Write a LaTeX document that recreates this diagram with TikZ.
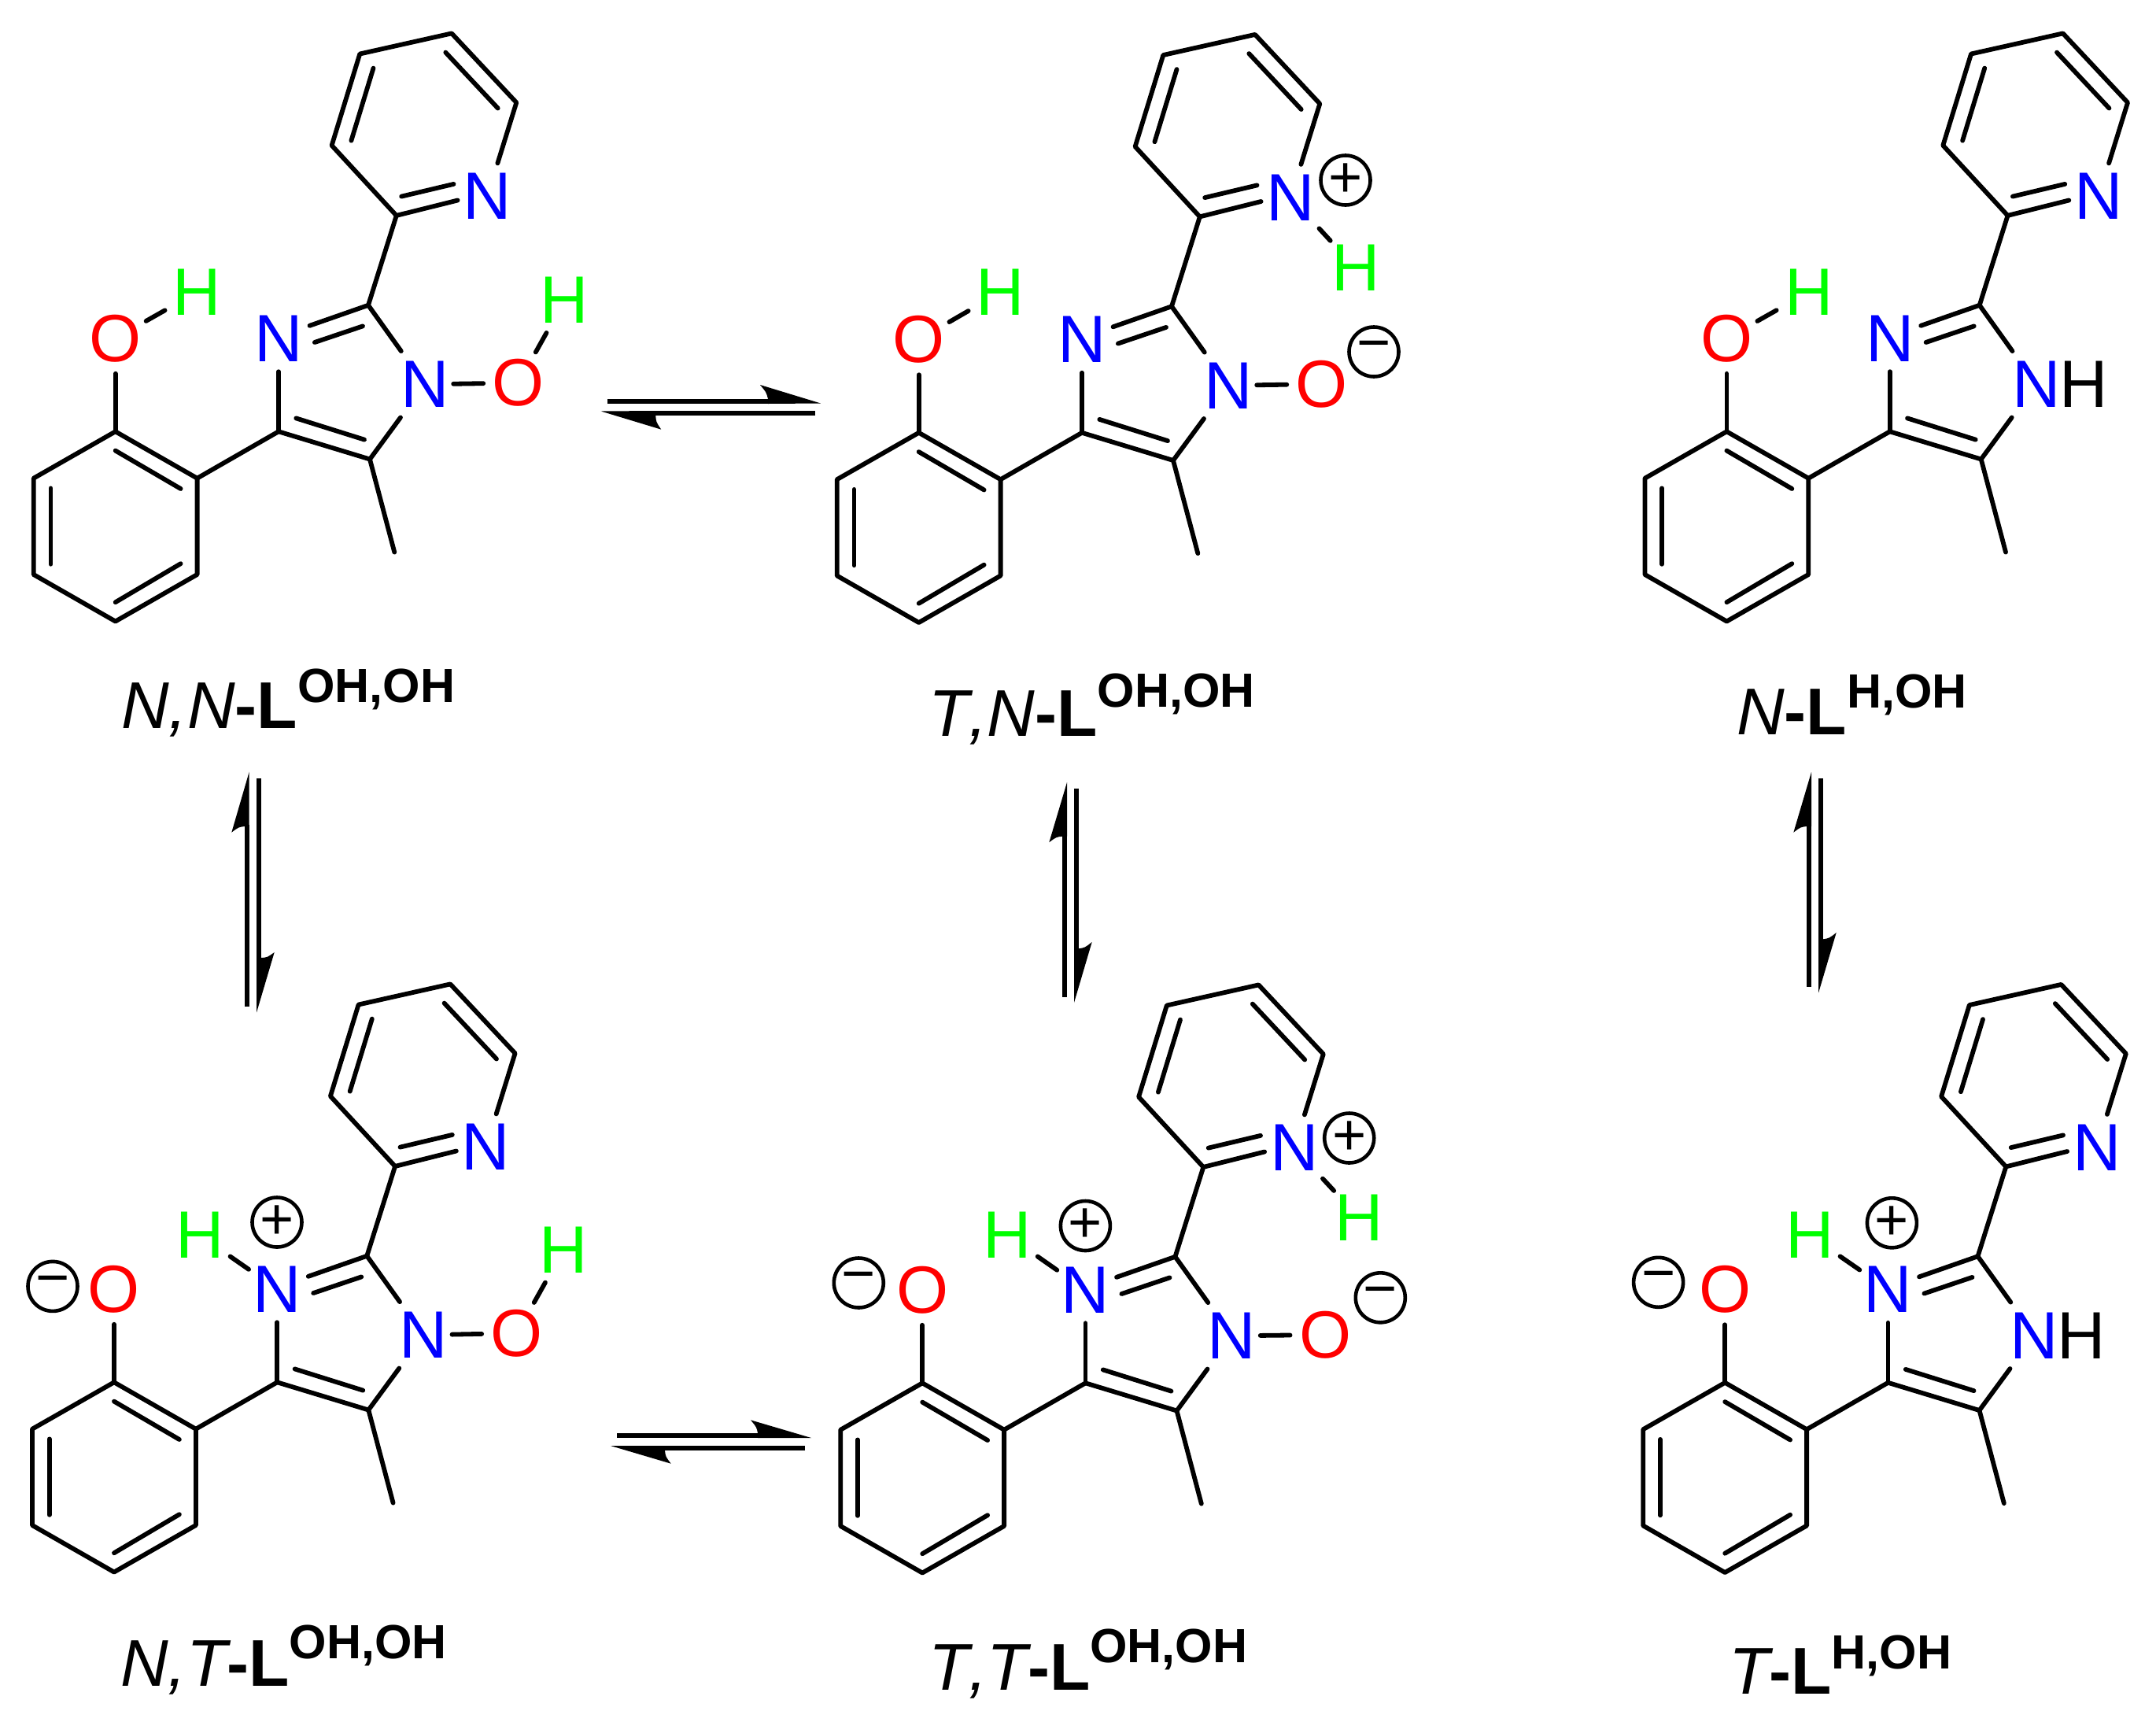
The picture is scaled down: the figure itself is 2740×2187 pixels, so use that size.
\documentclass[tikz,border=0pt]{standalone}
\usepackage{fontspec}
\setmainfont{Liberation Sans}[Kerning=Off]
\usetikzlibrary{calc}
\definecolor{nblue}{RGB}{0,0,255}
\definecolor{ored}{RGB}{255,0,0}
\definecolor{hgreen}{RGB}{0,255,0}
\tikzset{
  bond/.style={line width=5.8pt,line cap=round,line join=round,black},
  shaft/.style={line width=6pt,black},
  atomfont/.style={font=\fontsize{85}{90}\selectfont,inner sep=0pt},
  atomN/.style={atomfont,rectangle,minimum width=72pt,minimum height=84pt,text=nblue},
  atomO/.style={atomfont,circle,minimum size=84pt,text=ored},
  atomH/.style={atomfont,circle,minimum size=94pt,text=hgreen},
  atomK/.style={atomfont,text=black},
  charge/.style={circle,draw=black,line width=4.6pt,minimum size=63pt,inner sep=0pt,font=\fontsize{74}{76}\selectfont},
  lab/.style={anchor=base west,inner sep=0pt,font=\fontsize{84}{90}\selectfont}
}
\newcommand\Skeleton[3]{%
  \begin{scope}[shift={(#2,#3)}]
    \coordinate (#1b1) at (146.7,548.3);
    \coordinate (#1b2) at (250.6,607.7);
    \coordinate (#1b3) at (250.6,730);
    \coordinate (#1b4) at (146.7,789.5);
    \coordinate (#1b5) at (42.7,730);
    \coordinate (#1b6) at (42.7,607.7);
    \coordinate (#1i1) at (146.7,572.6);
    \coordinate (#1i2) at (229.6,621);
    \coordinate (#1i3) at (64.4,620.4);
    \coordinate (#1i4) at (64.4,716.8);
    \coordinate (#1i5) at (146.7,765.2);
    \coordinate (#1i6) at (229.6,716.2);
    \coordinate (#1c4) at (354,548.3);
    \coordinate (#1c5) at (470,583.5);
    \coordinate (#1c2) at (468,387.8);
    \coordinate (#1me) at (501.3,701.6);
    \coordinate (#1j1) at (376.3,531.4);
    \coordinate (#1j2) at (463,558.6);
    \coordinate (#1j3) at (393.5,413.8);
    \coordinate (#1j4) at (399.9,435);
    \coordinate (#1j5) at (461,414.4);
    \coordinate (#1p2) at (503.8,273.9);
    \coordinate (#1p3) at (421.6,184.8);
    \coordinate (#1p4) at (457.3,68.5);
    \coordinate (#1p5) at (574,42.4);
    \coordinate (#1p6) at (656.3,130.3);
    \coordinate (#1k1) at (446.4,178.7);
    \coordinate (#1k2) at (474.5,86.6);
    \coordinate (#1k3) at (566.3,66.6);
    \coordinate (#1k4) at (632.7,137.5);
    \coordinate (#1k5) at (581.6,254.5);
    \coordinate (#1k6) at (510.2,249.6);
    \coordinate (#1k7) at (576.5,233.9);
    \node[atomO] (#1Op) at (146.7,430) {O};
    \node[atomN] (#1Na) at (354,430) {N};
    \node[atomN] (#1Nb) at (540,488.3) {N};
    \node[atomN] (#1Np) at (619.3,249.6) {N};
  \end{scope}
  \draw[bond] (#1b1)--(#1b2)--(#1b3)--(#1b4)--(#1b5)--(#1b6)--cycle;
  \draw[bond] (#1i1)--(#1i2);
  \draw[bond] (#1i3)--(#1i4);
  \draw[bond] (#1i5)--(#1i6);
  \draw[bond] (#1b1)--(#1Op);
  \draw[bond] (#1b2)--(#1c4);
  \draw[bond] (#1c4)--(#1c5);
  \draw[bond] (#1j1)--(#1j2);
  \draw[bond] (#1c4)--(#1Na);
  \draw[bond] (#1c5)--(#1Nb);
  \draw[bond] (#1c2)--(#1Nb);
  \draw[bond] (#1c2)--(#1j3);
  \draw[bond] (#1j4)--(#1j5);
  \draw[bond] (#1c5)--(#1me);
  \draw[bond] (#1c2)--(#1p2);
  \draw[bond] (#1p2)--(#1p3)--(#1p4)--(#1p5)--(#1p6)--(#1Np);
  \draw[bond] (#1k1)--(#1k2);
  \draw[bond] (#1k3)--(#1k4);
  \draw[bond] (#1p2)--(#1k5);
  \draw[bond] (#1k6)--(#1k7);
}
% name, tail, shaft end, tip, barb, notch, base
\newcommand\HalfArrow[7]{%
  \coordinate (#1tail) at (#2);
  \coordinate (#1end) at (#3);
  \coordinate (#1tip) at (#4);
  \coordinate (#1barb) at (#5);
  \coordinate (#1notch) at (#6);
  \coordinate (#1base) at (#7);
  \draw[shaft] (#1tail)--(#1end);
  \fill[black] (#1tip)--(#1barb) .. controls ($(#1barb)!.5!(#1notch)!3pt!(#1tip)$) .. (#1notch)--(#1base)--cycle;
}
% name, x, y, italic text, raise, superscript
\newcommand\MolLabel[6]{%
  \node[lab] (#1) at (#2,#3) {{\itshape #4}{\bfseries -L}\raisebox{#5pt}{\fontsize{61}{66}\selectfont\bfseries #6}};
}
\begin{document}
\begin{tikzpicture}[x=1pt,y=-1pt]
\useasboundingbox (0,0) rectangle (2740,2187);
\fill[white] (0,0) rectangle (2740,2187);

% N,N
\Skeleton{A}{0}{0}
\node[atomH] (AHp) at (250.6,371) {H};
\node[atomO] (AOs) at (659,486.5) {O};
\node[atomH] (AHs) at (717.5,381.7) {H};
\draw[bond] (AOp)--(AHp);
\draw[bond] (ANb)--(AOs);
\draw[bond] (AOs)--(AHs);
\MolLabel{Alab}{154}{925}{N,N}{33}{OH,OH}

% T,N
\Skeleton{B}{1021}{1.5}
\node[atomH] (BHp) at (1271.5,371.4) {H};
\node[atomO] (BOs) at (1680,488) {O};
\node[charge] (BQm) at (1746,447) {−};
\node[charge] (BQp) at (1710,229) {+};
\node[atomH] (BHn) at (1722.7,340.5) {H};
\draw[bond] (BOp)--(BHp);
\draw[bond] (BNb)--(BOs);
\draw[bond] (BNp)--(BHn);
\MolLabel{Blab}{1180}{935}{T,N}{36.5}{OH,OH}

% N
\Skeleton{C}{2047.7}{0}
\node[atomH] (CHp) at (2298.7,371) {H};
\node[atomK] (CHn) at (2648,488) {H};
\draw[bond] (COp)--(CHp);
\MolLabel{Clab}{2207}{933}{N}{34}{H,OH}

% N,T
\Skeleton{D}{-1.7}{1208}
\node[charge] (DQm) at (67,1634.4) {−};
\node[atomH] (DHa) at (253.8,1569.5) {H};
\node[charge] (DQp) at (352,1553) {+};
\node[atomO] (DOs) at (656.9,1694) {O};
\node[atomH] (DHs) at (716,1588.4) {H};
\draw[bond] (DNa)--(DHa);
\draw[bond] (DNb)--(DOs);
\draw[bond] (DOs)--(DHs);
\MolLabel{Dlab}{153}{2142.3}{N,T}{35}{OH,OH}

% T,T
\Skeleton{E}{1025.5}{1209}
\node[charge] (EQo) at (1091.3,1630) {−};
\node[atomH] (EHa) at (1280,1569.5) {H};
\node[charge] (EQa) at (1379.4,1557.5) {+};
\node[atomO] (EOs) at (1684.3,1696) {O};
\node[charge] (EQm) at (1754.3,1648.8) {−};
\node[charge] (EQp) at (1714.7,1446) {+};
\node[atomH] (EHn) at (1727.3,1547.5) {H};
\draw[bond] (ENa)--(EHa);
\draw[bond] (ENb)--(EOs);
\draw[bond] (ENp)--(EHn);
\MolLabel{Elab}{1180}{2147.4}{T,T}{34.6}{OH,OH}

% T
\Skeleton{F}{2045.5}{1208.5}
\node[charge] (FQo) at (2107.6,1629.3) {−};
\node[atomH] (FHa) at (2299.7,1569.5) {H};
\node[charge] (FQa) at (2404.4,1553.8) {+};
\node[atomK] (FHn) at (2645,1697) {H};
\draw[bond] (FNa)--(FHa);
\MolLabel{Flab}{2197}{2152.4}{T}{32.4}{H,OH}

% equilibrium arrows
\HalfArrow{ha}{772,510}{978,510}{1043,512.5}{966,489}{976,507}{976,513}
\HalfArrow{hb}{1036,525}{831,525}{763.7,522.5}{840.3,545.7}{833.3,528}{833.3,522}
\HalfArrow{hc}{784,1824}{965,1824}{1031,1827}{954,1804.3}{963,1821}{963,1827}
\HalfArrow{hd}{1023,1840}{843,1840}{776,1837}{852.7,1859.7}{845,1843}{845,1837}
\HalfArrow{va}{313.8,1279}{313.8,1048}{316.7,980.7}{294.3,1057.7}{311,1050}{316.7,1050}
\HalfArrow{vb}{329,989}{329,1219}{326,1286.7}{348.7,1210}{332,1217}{326,1217}
\HalfArrow{vc}{1353,1266.7}{1353,1060}{1356,994}{1333.3,1070.3}{1350,1062.7}{1356,1062.7}
\HalfArrow{vd}{1368,1002}{1368,1207}{1365,1274}{1387.7,1197}{1371,1205.3}{1365,1205.3}
\HalfArrow{ve}{2299,1253.7}{2299,1048}{2302,981}{2279.3,1057.7}{2296,1050}{2302,1050}
\HalfArrow{vf}{2314,989}{2314,1195}{2311,1261.7}{2333.7,1185}{2317,1193.3}{2311,1193.3}
\end{tikzpicture}
\end{document}
